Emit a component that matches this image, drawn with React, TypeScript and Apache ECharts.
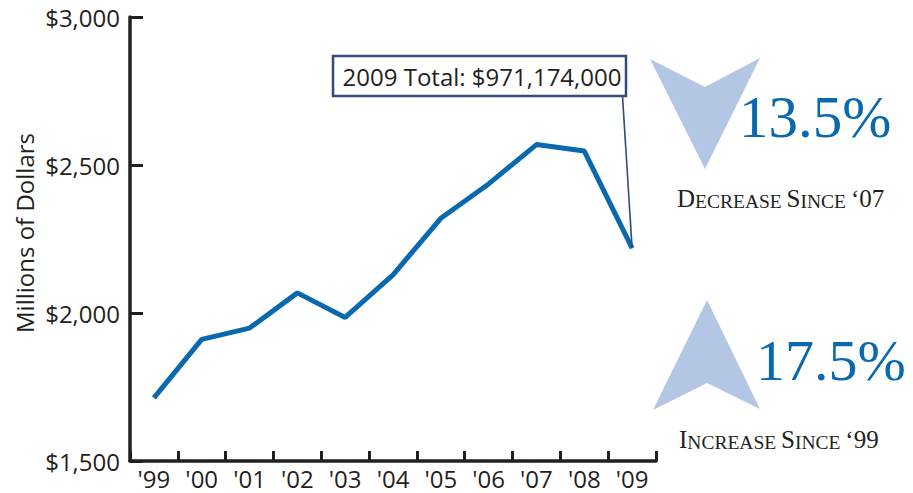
import React, { useEffect, useRef } from "react";
import * as echarts from "echarts";

const categories = ["'99", "'00", "'01", "'02", "'03", "'04", "'05", "'06", "'07", "'08", "'09"];
const spending = [1713, 1911, 1949, 2068, 1985, 2129, 2320, 2436, 2569, 2547, 2219];
const yMin = 1500;
const yMax = 3000;
const yStep = 500;
const yAxisTitle = "Millions of Dollars";
const calloutText = "2009 Total: $971,174,000";
const decreaseValue = "13.5%";
const increaseValue = "17.5%";

const DARK = "#231f20";
const BLUE = "#0a69ae";
const ARROW = "#b3c6e3";
const NAVY = "#2f4c7b";
const SANS = '"Open Sans", sans-serif';
const SERIF = '"Liberation Serif", serif';

export default function App() {
  const ref = useRef<HTMLDivElement>(null);

  useEffect(() => {
    if (!ref.current) return;
    const chart = echarts.init(ref.current, undefined, { renderer: "svg" });
    const option: any = {
      animation: false,
      grid: { left: 130, top: 17, width: 526, height: 444, containLabel: false },
      xAxis: {
        type: "category",
        data: categories,
        boundaryGap: true,
        axisLine: { show: true, lineStyle: { color: DARK, width: 3.5 } },
        axisTick: { show: true, inside: true, length: 10, alignWithLabel: false, lineStyle: { color: DARK, width: 3 } },
        axisLabel: { color: DARK, fontSize: 24, fontFamily: SANS, margin: 5, interval: 0 },
        splitLine: { show: false },
      },
      yAxis: {
        type: "value",
        min: yMin,
        max: yMax,
        interval: yStep,
        axisLine: { show: true, lineStyle: { color: DARK, width: 3.5 } },
        axisTick: { show: true, inside: true, length: 13, lineStyle: { color: DARK, width: 3 } },
        axisLabel: {
          color: DARK,
          fontSize: 24,
          fontFamily: SANS,
          margin: 10,
          formatter: (v: number) => "$" + v.toLocaleString("en-US"),
        },
        splitLine: { show: false },
      },
      series: [
        {
          type: "line",
          data: spending,
          symbol: "none",
          lineStyle: { color: BLUE, width: 5 },
          itemStyle: { color: BLUE },
        },
      ],
    };
    chart.setOption(option);

    const last = spending.length - 1;
    const pt = chart.convertToPixel({ xAxisIndex: 0, yAxisIndex: 0 }, [categories[last], spending[last]]) as number[];

    const capsRich = {
      b: { fontSize: 25, fontFamily: SERIF, fill: DARK, verticalAlign: "bottom", lineHeight: 25 },
      s: { fontSize: 19.5, fontFamily: SERIF, fill: DARK, verticalAlign: "bottom", lineHeight: 25 },
    };

    chart.setOption({
      graphic: [
        {
          type: "text",
          x: 24,
          y: 233,
          rotation: Math.PI / 2,
          style: {
            text: yAxisTitle,
            font: `24px ${SANS}`,
            fill: DARK,
            align: "center",
            verticalAlign: "middle",
          },
        },
        {
          type: "line",
          shape: { x1: 622.5, y1: 96, x2: pt[0], y2: pt[1] },
          style: { stroke: NAVY, lineWidth: 1.6 },
          z: 10,
        },
        {
          type: "rect",
          shape: { x: 333, y: 56, width: 293, height: 40 },
          style: { fill: "#ffffff", stroke: NAVY, lineWidth: 2.5 },
          z: 10,
        },
        {
          type: "text",
          x: 482,
          y: 76,
          z: 11,
          style: {
            text: calloutText,
            font: `24px ${SANS}`,
            fill: DARK,
            align: "center",
            verticalAlign: "middle",
          },
        },
        {
          type: "polygon",
          shape: { points: [[650, 59], [705, 87], [760, 58], [705, 169]] },
          style: { fill: ARROW },
        },
        {
          type: "text",
          x: 739,
          y: 117,
          z: 5,
          style: {
            text: decreaseValue,
            font: `59px ${SERIF}`,
            fill: BLUE,
            align: "left",
            verticalAlign: "middle",
          },
        },
        {
          type: "text",
          x: 677,
          y: 211,
          style: {
            text: "{b|D}{s|ECREASE }{b|S}{s|INCE }{b|\u201807}",
            rich: capsRich,
            align: "left",
            verticalAlign: "bottom",
          },
        },
        {
          type: "polygon",
          shape: { points: [[707, 300], [760, 409], [707, 383], [653, 410]] },
          style: { fill: ARROW },
        },
        {
          type: "text",
          x: 756,
          y: 360,
          z: 5,
          style: {
            text: increaseValue,
            font: `58px ${SERIF}`,
            fill: BLUE,
            align: "left",
            verticalAlign: "middle",
          },
        },
        {
          type: "text",
          x: 679,
          y: 452,
          style: {
            text: "{b|I}{s|NCREASE }{b|S}{s|INCE }{b|\u201899}",
            rich: capsRich,
            align: "left",
            verticalAlign: "bottom",
          },
        },
      ],
    });

    return () => chart.dispose();
  }, []);

  return (
    <div
      ref={ref}
      style={{ position: "absolute", left: 0, top: 0, width: 913, height: 493, background: "#ffffff" }}
    />
  );
}
